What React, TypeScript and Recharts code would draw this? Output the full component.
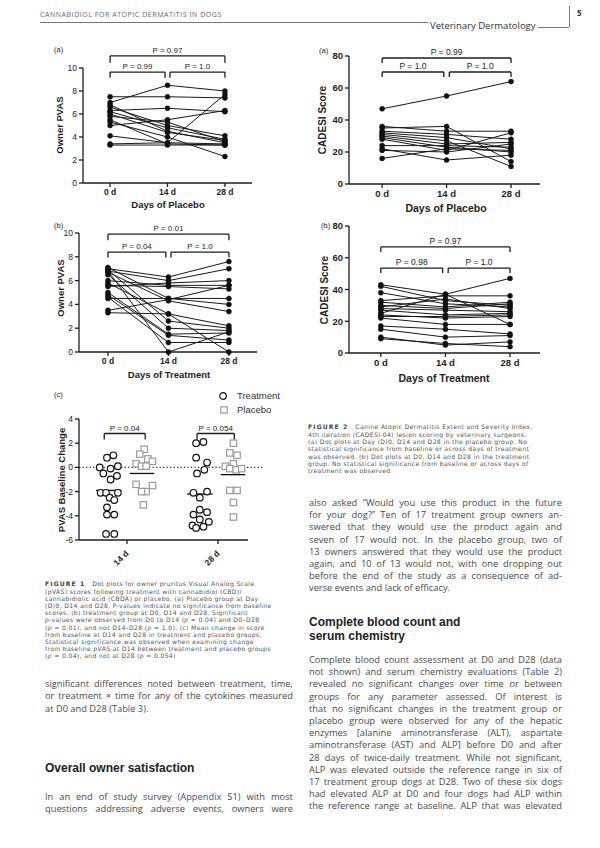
import React from "react";
import { LineChart, Line, XAxis, YAxis, ReferenceLine, ComposedChart, Scatter } from "recharts";

// ---- data ----
const days = [0, 14, 28];

// Fig 1a: owner PVAS, placebo group (one row per dog: D0, D14, D28)
const pvasPlacebo = [
  [7.0, 8.5, 8.0],
  [7.5, 7.5, 7.4],
  [6.3, 6.5, 6.2],
  [5.0, 5.5, 6.3],
  [6.8, 4.5, 3.5],
  [6.6, 5.0, 4.1],
  [6.2, 4.8, 3.8],
  [6.0, 4.4, 3.7],
  [5.8, 5.3, 3.6],
  [5.5, 3.4, 3.3],
  [5.3, 4.0, 2.3],
  [4.1, 3.5, 7.7],
  [3.4, 3.5, 3.4],
  [3.3, 3.3, 3.3],
];

// Fig 1b: owner PVAS, treatment group
const pvasTreatment = [
  [7.0, 6.3, 7.6],
  [6.8, 6.0, 7.0],
  [5.5, 5.8, 6.0],
  [5.6, 5.5, 5.3],
  [7.1, 4.5, 4.5],
  [6.0, 5.6, 5.6],
  [4.5, 4.5, 4.0],
  [6.7, 4.3, 3.4],
  [3.5, 4.4, 5.6],
  [3.3, 3.2, 2.2],
  [6.9, 2.6, 2.0],
  [6.5, 2.0, 1.8],
  [5.0, 1.5, 1.6],
  [4.8, 1.4, 1.0],
  [6.8, 0.0, 1.7],
  [4.6, 0.8, 0.8],
  [5.8, 3.2, 0.0],
];

// Fig 2a: CADESI-04, placebo group
const cadesiPlacebo = [
  [47, 55, 64],
  [35, 36, 14],
  [36, 33, 33],
  [33, 31, 28],
  [32, 29, 22],
  [31, 27, 11],
  [30, 25, 26],
  [29, 23, 20],
  [28, 21, 32],
  [24, 24, 23],
  [21, 20, 25],
  [16, 22, 21],
  [22, 15, 18],
];

// Fig 2b: CADESI-04, treatment group
const cadesiTreatment = [
  [25, 37, 47],
  [43, 37, 18],
  [42, 33, 30],
  [38, 31, 29],
  [33, 36, 36],
  [32, 29, 32],
  [30, 28, 31],
  [29, 34, 28],
  [28, 27, 26],
  [27, 24, 25],
  [24, 22, 23],
  [23, 23, 24],
  [22, 18, 18],
  [17, 15, 12],
  [15, 10, 11],
  [10, 5, 7],
  [9, 6, 4],
];

// Fig 1c: change from baseline (value) and horizontal jitter (x units)
const changeDays = ["14 d", "28 d"];
const treat14 = [0.8, 1.0, 0.0, -0.5, -0.1, 0.1, -0.7, -1.0, -2.1, -2.1, -2.1, -2.5, -2.7, -3.3, -3.9, -3.9, -5.5, -5.5];
const treat14Jitter = [-0.22, -0.15, -0.3, -0.26, -0.18, -0.1, -0.11, -0.18, -0.29, -0.23, -0.1, -0.19, -0.14, -0.22, -0.22, -0.14, -0.23, -0.14];
const placebo14 = [1.5, 1.1, 0.7, 0.5, 0.3, 0.1, 0.1, -1.4, -2.0, -2.0, -1.5, -3.1];
const placebo14Jitter = [0.19, 0.14, 0.23, 0.28, 0.1, 0.16, 0.21, 0.1, 0.21, 0.16, 0.28, 0.18];
const treat28 = [2.0, 2.1, 0.8, 0.4, -0.5, -0.2, -2.1, -2.0, -2.5, -3.5, -3.9, -3.7, -4.3, -4.8, -5.0, -4.9, -4.5];
const treat28Jitter = [-0.24, -0.16, -0.24, -0.12, -0.23, -0.15, -0.27, -0.12, -0.2, -0.2, -0.27, -0.12, -0.2, -0.28, -0.24, -0.16, -0.1];
const placebo28 = [2.0, 1.2, 1.0, 0.3, 0.1, -0.1, -0.2, -0.1, -1.9, -1.9, -2.9, -4.1];
const placebo28Jitter = [0.17, 0.13, 0.21, 0.17, 0.08, 0.13, 0.2, 0.26, 0.13, 0.21, 0.17, 0.17];
const treatMeans = [-1.9, -2.2];
const placeboMeans = [-0.5, -0.6];

const pvasTicks = [0, 2, 4, 6, 8, 10];
const cadesiTicks = [0, 20, 40, 60, 80];
const changeTicks = [-6, -4, -2, 0, 2, 4];

// ---- styles ----
const FONT = '"Liberation Sans", Arial, sans-serif';
const BODY = '"Open Sans", sans-serif';
const CAPTION = '"DejaVu Sans", sans-serif';
const INK = "#1e1e1e";
const TEXT = "#4a4a4a";
const LINK = "#3d4f9f";
const axisStyle = { stroke: INK, strokeWidth: 1.3 };

type Bracket = { x1: number; x2: number; y: number; drop: number; text: string };

function bracketLines(b: Bracket, k: number, size: number) {
  return [
    <ReferenceLine
      key={`h${k}`}
      segment={[{ x: b.x1, y: b.y }, { x: b.x2, y: b.y }]}
      ifOverflow="visible"
      stroke={INK}
      strokeWidth={1.3}
      label={{ value: b.text, position: "top", offset: 3, fontSize: size, fill: INK, fontFamily: FONT }}
    />,
    <ReferenceLine key={`l${k}`} segment={[{ x: b.x1, y: b.y }, { x: b.x1, y: b.y - b.drop }]} ifOverflow="visible" stroke={INK} strokeWidth={1.3} />,
    <ReferenceLine key={`r${k}`} segment={[{ x: b.x2, y: b.y }, { x: b.x2, y: b.y - b.drop }]} ifOverflow="visible" stroke={INK} strokeWidth={1.3} />,
  ];
}

type Rect = { l: number; t: number; r: number; b: number };
const ML = 45, MT = 32, MR = 24, MB = 30;

function DotPlot(props: { plot: Rect; xDomain: [number, number]; yMax: number; yTicks: number[]; series: number[][]; brackets: Bracket[]; big?: boolean }) {
  const { plot, xDomain, yMax, yTicks, series, brackets, big } = props;
  const w = plot.r - plot.l + ML + MR;
  const h = plot.b - plot.t + MT + MB;
  const rows = days.map((d, i) => {
    const row: Record<string, number> = { day: d };
    series.forEach((s, j) => (row[`s${j}`] = s[i]));
    return row;
  });
  const fs = big ? 9.5 : 8.5;
  return (
    <div style={{ position: "absolute", left: plot.l - ML, top: plot.t - MT }}>
      <LineChart width={w} height={h} data={rows} margin={{ top: MT, right: MR, bottom: 0, left: 0 }}>
        <XAxis
          type="number"
          dataKey="day"
          domain={xDomain}
          ticks={days}
          tickFormatter={(d) => `${d} d`}
          height={MB}
          axisLine={axisStyle}
          tickLine={axisStyle}
          tickSize={4}
          tick={{ fontSize: fs, fill: INK, fontFamily: FONT, fontWeight: 700 }}
        />
        <YAxis
          type="number"
          domain={[0, yMax]}
          ticks={yTicks}
          width={ML}
          axisLine={axisStyle}
          tickLine={axisStyle}
          tickSize={4}
          tick={{ fontSize: fs, fill: INK, fontFamily: FONT, fontWeight: big ? 700 : 400 }}
        />
        {series.map((_, j) => (
          <Line
            key={j}
            dataKey={`s${j}`}
            stroke="#1a1a1a"
            strokeWidth={1}
            dot={{ r: 2.5, fill: "#111", stroke: "#111", strokeWidth: 0.5 }}
            isAnimationActive={false}
          />
        ))}
        {brackets.flatMap((b, k) => bracketLines(b, k, big ? 8.5 : 8))}
      </LineChart>
    </div>
  );
}

function toPoints(center: number, values: number[], jitter: number[]) {
  return values.map((v, i) => ({ x: center + jitter[i], y: v }));
}

const circleShape = (p: any) => <circle cx={p.cx} cy={p.cy} r={3.3} fill="#fff" stroke="#111" strokeWidth={1.2} />;
const squareShape = (p: any) => <rect x={p.cx - 3.2} y={p.cy - 3.2} width={6.4} height={6.4} fill="#fff" stroke="#9a9a9a" strokeWidth={1.2} />;

function SlantTick(p: any) {
  const x = p.x, y = p.y + 6;
  return (
    <text x={x} y={y} transform={`rotate(-45 ${x} ${y})`} textAnchor="end" dy="0.35em" fontSize={8.5} fill={INK} fontFamily={FONT} fontWeight={700}>
      {changeDays[p.payload.value - 1]}
    </text>
  );
}

function ChangePlot() {
  const plot = { l: 79, t: 419, r: 248, b: 540 };
  const w = plot.r - plot.l + ML + MR;
  const h = plot.b - plot.t + MT + MB;
  const treatPts = [...toPoints(1, treat14, treat14Jitter), ...toPoints(2, treat28, treat28Jitter)];
  const placeboPts = [...toPoints(1, placebo14, placebo14Jitter), ...toPoints(2, placebo28, placebo28Jitter)];
  const brackets: Bracket[] = [
    { x1: 0.75, x2: 1.2, y: 2.8, drop: 0.5, text: "P = 0.04" },
    { x1: 1.77, x2: 2.18, y: 2.8, drop: 0.5, text: "P = 0.054" },
  ];
  return (
    <div style={{ position: "absolute", left: plot.l - ML, top: plot.t - MT }}>
      <ComposedChart width={w} height={h} margin={{ top: MT, right: MR, bottom: 0, left: 0 }}>
        <XAxis
          type="number"
          dataKey="x"
          domain={[0.4725, 2.33]}
          ticks={[1, 2]}
          height={MB}
          axisLine={axisStyle}
          tickLine={axisStyle}
          tickSize={4}
          tick={(p: any) => <SlantTick {...p} />}
        />
        <YAxis
          type="number"
          dataKey="y"
          domain={[-6, 4]}
          ticks={changeTicks}
          width={ML}
          axisLine={axisStyle}
          tickLine={axisStyle}
          tickSize={4}
          tick={{ fontSize: 8.5, fill: INK, fontFamily: FONT }}
        />
        <ReferenceLine segment={[{ x: 0.4725, y: 0 }, { x: 2.5, y: 0 }]} ifOverflow="visible" stroke="#333" strokeWidth={1.3} strokeDasharray="1.3 2.2" />
        <Scatter data={treatPts} shape={circleShape} isAnimationActive={false} />
        <Scatter data={placeboPts} shape={squareShape} isAnimationActive={false} />
        {treatMeans.map((m, i) => (
          <ReferenceLine key={`tm${i}`} segment={[{ x: i + 1 - 0.34, y: m }, { x: i + 1 - 0.06, y: m }]} ifOverflow="visible" stroke="#111" strokeWidth={1.3} />
        ))}
        {placeboMeans.map((m, i) => (
          <ReferenceLine key={`pm${i}`} segment={[{ x: i + 1 + 0.03, y: m }, { x: i + 1 + 0.3, y: m }]} ifOverflow="visible" stroke="#111" strokeWidth={1.3} />
        ))}
        {brackets.flatMap((b, k) => bracketLines(b, k, 8))}
      </ComposedChart>
    </div>
  );
}

// ---- text helpers ----
function inline(s: string) {
  return s
    .split(/(\{[^}]*\}|~[^~]*~|\^[^^]*\^)/)
    .filter(Boolean)
    .map((p, i) => {
      if (p[0] === "{") return <span key={i} style={{ color: LINK }}>{p.slice(1, -1)}</span>;
      if (p[0] === "~") return <span key={i} style={{ fontStyle: "italic" }}>{p.slice(1, -1)}</span>;
      if (p[0] === "^") return <span key={i} style={{ fontWeight: 700, letterSpacing: 1.1, color: "#444" }}>{p.slice(1, -1)}</span>;
      return <span key={i}>{p}</span>;
    });
}

function Para(props: { lines: string[]; x: number; y: number; step: number; width: number; size: number; justifyLast?: boolean; ragged?: boolean; color?: string; spacing?: number; family?: string }) {
  const { lines, x, y, step, width, size, justifyLast, ragged, color, spacing, family } = props;
  const lh = Math.min(size * 1.3, step);
  return (
    <>
      {lines.map((ln, i) => {
        const justify = !ragged && (i < lines.length - 1 || justifyLast);
        const style: React.CSSProperties = {
          position: "absolute",
          left: x,
          top: y + i * step - lh / 2,
          width,
          height: lh,
          lineHeight: `${lh}px`,
          fontSize: size,
          fontFamily: family || BODY,
          color: color || TEXT,
          letterSpacing: spacing || 0,
          whiteSpace: "pre",
        };
        if (justify) {
          return (
            <div key={i} style={{ ...style, display: "flex", justifyContent: "space-between" }}>
              {ln.split(" ").map((t, k) => (
                <span key={k}>{inline(t)}</span>
              ))}
            </div>
          );
        }
        return (
          <div key={i} style={style}>
            {inline(ln)}
          </div>
        );
      })}
    </>
  );
}

function Abs(props: { x: number; y: number; size: number; children: React.ReactNode; bold?: boolean; rotate?: boolean; family?: string; color?: string; center?: boolean }) {
  const { x, y, size, children, bold, rotate, family, color, center } = props;
  return (
    <div
      style={{
        position: "absolute",
        left: x,
        top: y,
        fontSize: size,
        fontWeight: bold ? 700 : 400,
        fontFamily: family || FONT,
        color: color || INK,
        whiteSpace: "nowrap",
        lineHeight: 1,
        transform: `translate(${center || rotate ? "-50%" : "0"}, -50%)${rotate ? " rotate(-90deg)" : ""}`,
      }}
    >
      {children}
    </div>
  );
}

const fig1Caption = [
  "^FIGURE 1^   Dot plots for owner pruritus Visual Analog Scale",
  "(pVAS) scores following treatment with cannabidiol (CBD)/",
  "cannabidiolic acid (CBDA) or placebo. (a) Placebo group at Day",
  "(D)0, D14 and D28. P-values indicate no significance from baseline",
  "scores. (b) treatment group at D0, D14 and D28. Significant",
  "~p~-values were observed from D0 to D14 (~p~ = 0.04) and D0–D28",
  "(~p~ = 0.01), and not D14–D28 (~p~ = 1.0). (c) Mean change in score",
  "from baseline at D14 and D28 in treatment and placebo groups.",
  "Statistical significance was observed when examining change",
  "from baseline pVAS at D14 between treatment and placebo groups",
  "(~p~ = 0.04), and not at D28 (~p~ = 0.054)",
];

const fig2Caption = [
  "^FIGURE 2^   Canine Atopic Dermatitis Extent and Severity Index,",
  "4th iteration (CADESI-04) lesion scoring by veterinary surgeons.",
  "(a) Dot plots at Day (D)0, D14 and D28 in the placebo group. No",
  "statistical significance from baseline or across days of treatment",
  "was observed. (b) Dot plots at D0, D14 and D28 in the treatment",
  "group. No statistical significance from baseline or across days of",
  "treatment was observed",
];

const leftParaA = [
  "significant differences noted between treatment, time,",
  "or treatment × time for any of the cytokines measured",
  "at D0 and D28 ({Table 3}).",
];

const leftParaB = [
  "In an end of study survey ({Appendix} S1) with most",
  "questions addressing adverse events, owners were",
];

const rightParaA = [
  "also asked “Would you use this product in the future",
  "for your dog?” Ten of 17 treatment group owners an-",
  "swered that they would use the product again and",
  "seven of 17 would not. In the placebo group, two of",
  "13 owners answered that they would use the product",
  "again, and 10 of 13 would not, with one dropping out",
  "before the end of the study as a consequence of ad-",
  "verse events and lack of efficacy.",
];

const rightParaB = [
  "Complete blood count assessment at D0 and D28 (data",
  "not shown) and serum chemistry evaluations ({Table} {2})",
  "revealed no significant changes over time or between",
  "groups for any parameter assessed. Of interest is",
  "that no significant changes in the treatment group or",
  "placebo group were observed for any of the hepatic",
  "enzymes [alanine aminotransferase (ALT), aspartate",
  "aminotransferase (AST) and ALP] before D0 and after",
  "28 days of twice-daily treatment. While not significant,",
  "ALP was elevated outside the reference range in six of",
  "17 treatment group dogs at D28. Two of these six dogs",
  "had elevated ALP at D0 and four dogs had ALP within",
  "the reference range at baseline. ALP that was elevated",
];

export default function App() {
  return (
    <div style={{ position: "absolute", left: 0, top: 0, width: 600, height: 848, background: "#fff", overflow: "hidden" }}>
      {/* running header */}
      <Abs x={40} y={14} size={7} family={BODY} color="#666">
        <span style={{ letterSpacing: 0.55 }}>CANNABIDIOL FOR ATOPIC DERMATITIS IN DOGS</span>
      </Abs>
      <div style={{ position: "absolute", left: 40, top: 21.5, width: 388, borderTop: "0.8px solid #777" }} />
      <Abs x={430} y={26} size={9.5} family={BODY} color="#333">Veterinary Dermatology</Abs>
      <div style={{ position: "absolute", left: 538, top: 26.5, width: 31, borderTop: "0.8px solid #777" }} />
      <div style={{ position: "absolute", left: 569, top: 6, height: 21, borderLeft: "0.8px solid #777" }} />
      <Abs x={577} y={13} size={8} bold family={BODY} color="#333">5</Abs>

      {/* Figure 1a */}
      <Abs x={54} y={50} size={7.5}>(a)</Abs>
      <DotPlot
        plot={{ l: 83, t: 68, r: 252, b: 183 }}
        xDomain={[-6.6, 34.6]}
        yMax={10}
        yTicks={pvasTicks}
        series={pvasPlacebo}
        brackets={[
          { x1: 0, x2: 28, y: 11.05, drop: 0.6, text: "P = 0.97" },
          { x1: 0, x2: 13.4, y: 9.65, drop: 0.5, text: "P = 0.99" },
          { x1: 14.6, x2: 28, y: 9.65, drop: 0.5, text: "P = 1.0" },
        ]}
      />
      <Abs x={60} y={125} size={9.5} bold rotate>Owner PVAS</Abs>
      <Abs x={168} y={205} size={9.5} bold center>Days of Placebo</Abs>

      {/* Figure 1b */}
      <Abs x={54} y={226} size={7.5}>(b)</Abs>
      <DotPlot
        plot={{ l: 79, t: 233, r: 257, b: 352 }}
        xDomain={[-6.7, 34.5]}
        yMax={10}
        yTicks={pvasTicks}
        series={pvasTreatment}
        brackets={[
          { x1: 0, x2: 28, y: 9.9, drop: 0.5, text: "P = 0.01" },
          { x1: 0, x2: 13.4, y: 8.4, drop: 0.45, text: "P = 0.04" },
          { x1: 14.6, x2: 28, y: 8.4, drop: 0.45, text: "P = 1.0" },
        ]}
      />
      <Abs x={61} y={288} size={9.5} bold rotate>Owner PVAS</Abs>
      <Abs x={169} y={375} size={9.5} bold center>Days of Treatment</Abs>

      {/* Figure 1c */}
      <Abs x={54} y={395} size={7.5}>(c)</Abs>
      <ChangePlot />
      <Abs x={62} y={480} size={9.5} bold rotate>PVAS Baseline Change</Abs>
      <svg style={{ position: "absolute", left: 218, top: 391 }} width={10} height={10}>
        <circle cx={5} cy={5} r={3.3} fill="#fff" stroke="#111" strokeWidth={1.2} />
      </svg>
      <Abs x={237} y={396} size={9.5} color="#333">Treatment</Abs>
      <svg style={{ position: "absolute", left: 219, top: 405 }} width={10} height={10}>
        <rect x={1.8} y={1.8} width={6.4} height={6.4} fill="#fff" stroke="#9a9a9a" strokeWidth={1.2} />
      </svg>
      <Abs x={237} y={410} size={9.5} color="#333">Placebo</Abs>

      {/* Figure 2a */}
      <Abs x={319} y={51} size={7.5}>(a)</Abs>
      <DotPlot
        plot={{ l: 349, t: 56, r: 540, b: 184 }}
        xDomain={[-7.2, 34.3]}
        yMax={80}
        yTicks={cadesiTicks}
        series={cadesiPlacebo}
        brackets={[
          { x1: 0, x2: 28, y: 78.75, drop: 3.2, text: "P = 0.99" },
          { x1: 0, x2: 13.4, y: 70, drop: 3.1, text: "P = 1.0" },
          { x1: 14.6, x2: 28, y: 70, drop: 3.1, text: "P = 1.0" },
        ]}
        big
      />
      <Abs x={323} y={120} size={10} bold rotate>CADESI Score</Abs>
      <Abs x={446} y={208} size={10.5} bold center>Days of Placebo</Abs>

      {/* Figure 2b */}
      <Abs x={321} y={226} size={7.5}>(b)</Abs>
      <DotPlot
        plot={{ l: 349, t: 226, r: 540, b: 353 }}
        xDomain={[-6.9, 34.5]}
        yMax={80}
        yTicks={cadesiTicks}
        series={cadesiTreatment}
        brackets={[
          { x1: 0, x2: 28, y: 66.8, drop: 3.2, text: "P = 0.97" },
          { x1: 0, x2: 13.4, y: 53.5, drop: 3.1, text: "P = 0.98" },
          { x1: 14.6, x2: 28, y: 53.5, drop: 3.1, text: "P = 1.0" },
        ]}
        big
      />
      <Abs x={325} y={290} size={10} bold rotate>CADESI Score</Abs>
      <Abs x={444} y={378} size={10.5} bold center>Days of Treatment</Abs>

      {/* captions */}
      <Para lines={fig2Caption} x={308} y={427} step={7.3} width={256} size={6.1} spacing={0.36} ragged color="#555" family={CAPTION} />
      <Para lines={fig1Caption} x={45} y={584} step={7.2} width={250} size={6.1} spacing={0.34} ragged color="#555" family={CAPTION} />

      {/* body text */}
      <Para lines={leftParaA} x={45} y={684} step={12.5} width={248} size={9.3} />
      <Abs x={45} y={768} size={12} bold>Overall owner satisfaction</Abs>
      <Para lines={leftParaB} x={45} y={797} step={12.5} width={248} size={9.3} justifyLast />

      <Para lines={rightParaA} x={309} y={503} step={12.2} width={253} size={9.3} />
      <Abs x={309} y={622} size={12} bold>Complete blood count and</Abs>
      <Abs x={309} y={636} size={12} bold>serum chemistry</Abs>
      <Para lines={rightParaB} x={309} y={660} step={12.2} width={253} size={9.3} justifyLast />
    </div>
  );
}
